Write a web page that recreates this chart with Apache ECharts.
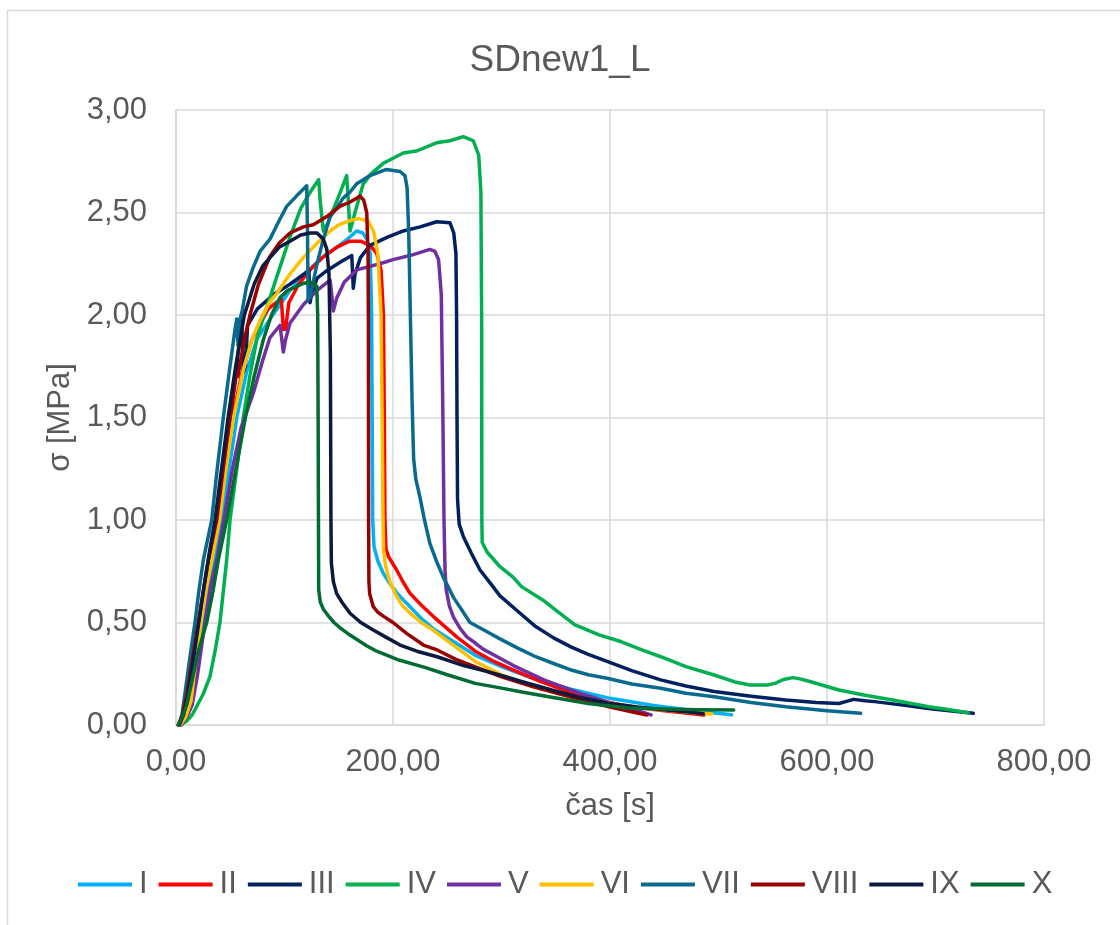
<!DOCTYPE html>
<html>
<head>
<meta charset="utf-8">
<script src="https://cdn.jsdelivr.net/npm/echarts@6/dist/echarts.min.js"></script>
<style>
html,body{margin:0;padding:0;background:#fff;}
#chart{width:1120px;height:925px;}
</style>
</head>
<body>
<div id="chart"></div>
<script>
const seriesNames = ['I','II','III','IV','V','VI','VII','VIII','IX','X'];
const seriesColors = ['#00B0F0','#FF0000','#002060','#00B050','#7030A0','#FFC000','#0A6A8E','#990000','#0C1A3F','#006B33'];
const titleText = 'SDnew1_L';
const xAxisTitle = 'čas [s]';
const yAxisTitle = 'σ [MPa]';

const sI = [[3.7,0],[8,0.03],[12,0.08],[16,0.155],[20,0.3],[25.2,0.5],[30,0.66],[36,0.805],[42,1.0],[49,1.25],[56,1.5],[65,1.72],[74.4,1.88],[86.6,1.98],[96,2.05],[105,2.12],[116,2.18],[126.5,2.24],[137,2.29],[148,2.33],[158,2.37],[166.5,2.41],[172,2.40],[176,2.37],[179,2.3],[180.3,2.0],[180.8,1.5],[181.3,1.0],[182.5,0.87],[186,0.8],[191,0.74],[197,0.69],[205,0.635],[215.7,0.577],[226,0.52],[237,0.47],[255,0.41],[275.8,0.34],[300,0.285],[330,0.225],[364,0.175],[400,0.13],[440,0.095],[480,0.068],[512,0.05]];
const sII = [[2.5,0],[8,0.03],[14.5,0.106],[18,0.3],[22,0.5],[26,0.66],[31.3,0.805],[38,1.0],[45,1.25],[52,1.5],[61,1.72],[70,1.88],[85,2.03],[97,2.08],[99,1.93],[101,1.93],[104,2.06],[113,2.15],[123.5,2.22],[135,2.28],[148,2.33],[160,2.36],[170,2.36],[179,2.34],[185,2.3],[189,2.22],[191.2,2.0],[192,1.5],[192.6,1.0],[193.5,0.86],[196,0.82],[203.4,0.756],[209,0.7],[215.7,0.642],[226,0.585],[237,0.53],[258.7,0.43],[275.8,0.36],[293,0.31],[311,0.268],[337,0.21],[364,0.158],[390,0.12],[416.6,0.092],[450,0.07],[486.6,0.049]];
const sIII = [[4,0],[9,0.05],[14,0.15],[18,0.3],[22,0.5],[27,0.7],[32,0.85],[38,1.0],[44,1.25],[50,1.5],[56,1.75],[60.5,1.98],[62,1.72],[64,1.75],[66,1.95],[75,2.03],[90,2.1],[105,2.15],[118,2.2],[122.5,2.22],[123.5,2.06],[125,2.1],[130,2.18],[140,2.22],[152,2.26],[162,2.29],[163.4,2.13],[165,2.2],[170,2.28],[178.8,2.34],[195,2.38],[209.5,2.41],[225,2.43],[240.3,2.455],[252.5,2.45],[256,2.4],[258,2.3],[258.6,2.0],[259,1.5],[259.5,1.1],[261,0.98],[264.8,0.92],[272,0.84],[280.2,0.756],[290,0.69],[298.6,0.63],[315,0.555],[331.5,0.48],[348,0.425],[364.4,0.38],[380,0.345],[397.3,0.31],[420,0.265],[446.7,0.22],[470,0.19],[496,0.163],[530,0.14],[562,0.122],[590,0.11],[611,0.105],[618,0.115],[624.5,0.125],[635,0.118],[644,0.114],[670,0.097],[693.6,0.081],[715,0.068],[734.8,0.057]];
const sIV = [[4,0],[10,0.02],[15,0.05],[19,0.09],[25,0.15],[31.3,0.236],[36,0.36],[40.5,0.5],[46.7,0.805],[49.8,1.0],[56,1.25],[62,1.5],[68,1.7],[74.4,1.88],[80,1.98],[86.6,2.085],[95,2.22],[105,2.38],[115,2.52],[125,2.61],[131.5,2.66],[133,2.55],[135.8,2.41],[140,2.45],[150,2.58],[157.3,2.68],[158.5,2.58],[160.4,2.41],[165,2.5],[172.6,2.64],[180,2.69],[191,2.74],[209.5,2.79],[221.8,2.8],[240,2.84],[252.5,2.85],[264.8,2.87],[274,2.85],[279,2.78],[281,2.6],[281.7,2.0],[281.9,1.0],[282.2,0.89],[286.5,0.845],[298.6,0.772],[310.9,0.72],[318.4,0.675],[338,0.61],[350,0.56],[367.7,0.488],[390,0.44],[410.5,0.406],[430,0.365],[446.7,0.333],[470,0.285],[496,0.244],[515,0.21],[529,0.195],[545,0.195],[552,0.203],[560,0.222],[568.6,0.231],[575,0.225],[585,0.211],[611,0.171],[635,0.145],[660.7,0.122],[693.6,0.089],[710,0.077],[730,0.06]];
const sV = [[5,0],[10,0.04],[15,0.1],[20,0.25],[26.7,0.5],[32,0.68],[37.5,0.805],[44,1.0],[52,1.25],[60,1.45],[71.3,1.62],[80,1.78],[86.6,1.89],[95.9,1.95],[97.5,1.88],[98.9,1.82],[101,1.88],[105,1.96],[117.3,2.05],[130,2.12],[142,2.17],[143.5,2.1],[145,2.02],[148,2.08],[155,2.16],[166.5,2.22],[188,2.25],[200,2.27],[215.7,2.29],[234,2.32],[238.7,2.31],[242,2.27],[244.5,2.1],[246,1.5],[247,1.0],[248,0.75],[249,0.66],[252,0.58],[255.6,0.528],[262,0.47],[268,0.43],[275.8,0.4],[283,0.37],[293.5,0.34],[311,0.29],[339,0.22],[372,0.155],[399,0.11],[420,0.08],[437.8,0.049]];
const sVI = [[4,0],[9,0.04],[14,0.12],[18,0.3],[23,0.5],[28,0.67],[33,0.805],[40,1.0],[46,1.25],[53,1.5],[62,1.73],[70,1.88],[78,1.98],[86,2.06],[92.8,2.105],[105,2.2],[117.3,2.28],[130,2.35],[142,2.41],[150,2.44],[160,2.46],[168,2.47],[177,2.46],[182,2.41],[186,2.3],[189,2.0],[190,1.5],[190.8,1.0],[191.3,0.85],[193,0.78],[197,0.7],[203.4,0.626],[209,0.58],[215.7,0.546],[226,0.5],[237,0.463],[247.7,0.42],[255.5,0.39],[275.8,0.31],[300,0.245],[328.7,0.187],[355,0.15],[381.4,0.122],[410,0.098],[434,0.081],[465,0.066],[494,0.054]];
const sVII = [[3,0],[5.5,0.05],[8.3,0.155],[12,0.3],[17.5,0.5],[21,0.65],[25.2,0.805],[32.9,1.0],[38,1.25],[43.6,1.5],[49,1.72],[54.4,1.93],[56,1.98],[57.2,1.85],[58.5,1.97],[61,2.02],[65,2.14],[71,2.23],[77.4,2.31],[86.6,2.37],[95,2.46],[102,2.53],[111,2.58],[120.5,2.63],[121.2,2.4],[121.8,2.07],[124,2.1],[130,2.25],[135.8,2.37],[142,2.48],[148,2.52],[154,2.57],[160.4,2.6],[166.5,2.64],[172.6,2.66],[178.8,2.68],[194,2.71],[206.5,2.7],[211,2.68],[213,2.62],[214.5,2.4],[216,2.0],[217.5,1.6],[219,1.3],[221,1.2],[224.9,1.11],[229,1.0],[234,0.886],[240,0.8],[246.4,0.72],[256,0.62],[271,0.5],[285,0.46],[298.6,0.42],[315,0.375],[331.5,0.333],[348,0.3],[364.4,0.268],[380,0.245],[397.3,0.228],[420,0.2],[446.7,0.179],[470,0.155],[496,0.138],[530,0.11],[562,0.089],[600,0.07],[631,0.057]];
const sVIII = [[2,0],[6,0.05],[10,0.15],[15,0.32],[20.6,0.5],[25,0.65],[29.8,0.805],[37.5,1.0],[43.5,1.25],[49.8,1.5],[55.9,1.72],[57,1.7],[59,1.76],[63,1.88],[68.2,2.0],[76,2.15],[86,2.28],[95,2.35],[105,2.4],[117.3,2.43],[126.5,2.44],[139,2.48],[151,2.53],[160,2.55],[166.5,2.57],[169.6,2.58],[173,2.56],[175.8,2.5],[177,2.3],[177.3,2.0],[177.5,1.0],[177.8,0.7],[178.5,0.64],[181.8,0.577],[186,0.55],[191.4,0.53],[200,0.5],[212.5,0.447],[228,0.39],[240.7,0.366],[258,0.32],[275.8,0.284],[300,0.235],[328.7,0.187],[365,0.135],[399,0.089],[420,0.065],[434,0.049]];
const sIX = [[3,0],[7,0.05],[11,0.15],[16,0.32],[21,0.5],[26,0.68],[31,0.85],[36,1.0],[42,1.25],[48,1.5],[55,1.75],[63,2.0],[72,2.15],[80,2.24],[86.6,2.28],[95,2.33],[105,2.36],[115,2.39],[123.5,2.4],[130,2.4],[135.8,2.37],[139,2.32],[141,2.2],[142.3,1.8],[142.8,1.0],[143.2,0.79],[145,0.7],[148,0.642],[152.8,0.6],[160.4,0.545],[170.3,0.5],[181.8,0.463],[193,0.43],[206.5,0.39],[222,0.36],[240.7,0.333],[265,0.29],[293.5,0.252],[320,0.21],[346.3,0.171],[372,0.135],[399,0.106],[425,0.088],[451.6,0.073],[475,0.062],[486,0.055]];
const sX = [[2,0],[6,0.04],[10,0.1],[15,0.22],[20,0.35],[28.3,0.5],[34,0.65],[39,0.805],[46.7,1.0],[56,1.27],[64,1.5],[72,1.7],[80.5,1.88],[88,2.0],[95.9,2.085],[103,2.12],[111.2,2.14],[118,2.155],[123.5,2.16],[127,2.155],[129.7,2.14],[130.6,2.0],[131,1.5],[131.3,1.0],[131.5,0.66],[133,0.6],[135.8,0.565],[140,0.535],[145.6,0.5],[151,0.475],[160,0.44],[170.3,0.405],[176,0.385],[185,0.36],[205.5,0.317],[230,0.28],[250,0.245],[275.8,0.203],[300,0.18],[320,0.16],[346.3,0.135],[380,0.105],[416.6,0.083],[450,0.078],[480,0.075],[514,0.073]];

const allData = [sI,sII,sIII,sIV,sV,sVI,sVII,sVIII,sIX,sX];
const fmt = v => v.toFixed(2).replace('.', ',');
const FONT = '"Liberation Sans", Arial, sans-serif';
const TXT = '#595959';
const GRID = '#D9D9D9';

const chart = echarts.init(document.getElementById('chart'), null, {renderer:'canvas'});
chart.setOption({
  animation: false,
  color: seriesColors,
  textStyle: {fontFamily: FONT},
  title: {
    text: titleText, left: 'center', top: 37,
    textStyle: {fontSize: 37, fontWeight: 'normal', color: TXT, fontFamily: FONT}
  },
  graphic: [{
    type: 'rect', silent: true, z: -10,
    shape: {x: 7.5, y: 10.5, width: 1200, height: 1000},
    style: {fill: 'none', stroke: GRID, lineWidth: 1.5}
  }],
  grid: {left: 176, right: 76, top: 110, bottom: 200, containLabel: false},
  legend: {
    data: seriesNames, left: 73, top: 864, icon: 'rect',
    itemWidth: 54, itemHeight: 4, itemGap: 11,
    textStyle: {fontSize: 31, color: TXT, fontFamily: FONT, padding: [0,0,0,2]}
  },
  xAxis: {
    type: 'value', min: 0, max: 800, interval: 200,
    name: xAxisTitle, nameLocation: 'middle', nameGap: 66,
    nameTextStyle: {fontSize: 31, color: TXT, fontFamily: FONT},
    axisLine: {show: true, lineStyle: {color: GRID, width: 1.5}},
    axisTick: {show: false},
    axisLabel: {formatter: fmt, fontSize: 31, color: TXT, margin: 22, fontFamily: FONT},
    splitLine: {show: true, lineStyle: {color: GRID, width: 1.5}}
  },
  yAxis: {
    type: 'value', min: 0, max: 3, interval: 0.5,
    name: yAxisTitle, nameLocation: 'middle', nameGap: 98, nameRotate: 90,
    nameTextStyle: {fontSize: 31, color: TXT, fontFamily: FONT},
    axisLine: {show: true, lineStyle: {color: GRID, width: 1.5}},
    axisTick: {show: false},
    axisLabel: {formatter: fmt, fontSize: 31, color: TXT, margin: 29, fontFamily: FONT},
    splitLine: {show: true, lineStyle: {color: GRID, width: 1.5}}
  },
  series: seriesNames.map((n, i) => ({
    name: n, type: 'line', data: allData[i], showSymbol: false, symbol: 'none',
    lineStyle: {width: 3.5, color: seriesColors[i], join: 'round', cap: 'round'}, itemStyle: {color: seriesColors[i]},
    smooth: false, z: 2 + i
  }))
});
</script>
</body>
</html>
